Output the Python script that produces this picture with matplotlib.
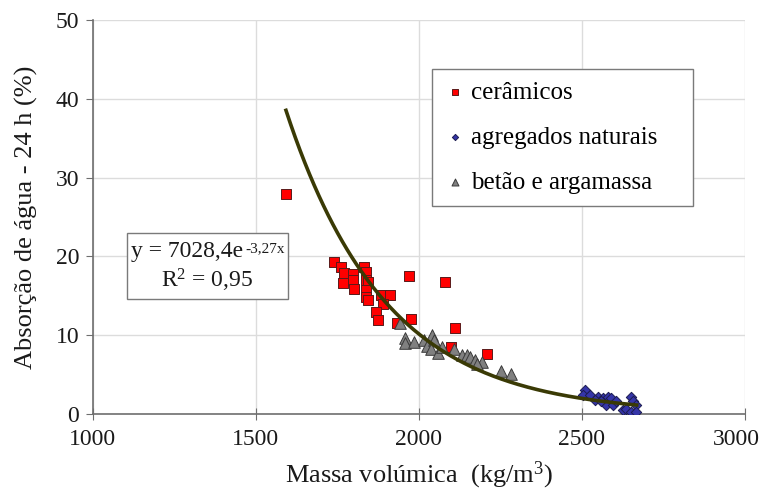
import numpy as np
import matplotlib
matplotlib.use("Agg")
import matplotlib.pyplot as plt
import matplotlib.transforms as mtransforms
from matplotlib.patches import Rectangle

plt.rcParams['font.family'] = ['Liberation Serif', 'DejaVu Serif']
plt.rcParams['mathtext.fontset'] = 'custom'
plt.rcParams['mathtext.rm'] = 'Liberation Serif'
plt.rcParams['mathtext.default'] = 'regular'

# Data
cer_x = [1592, 1740, 1762, 1771, 1798, 1768, 1798, 1801, 1831, 1836, 1838, 1844,
         1838, 1838, 1844, 1885, 1911, 1890, 1869, 1874, 1934, 1969, 2080, 1977,
         2112, 2098, 2208]
cer_y = [27.9, 19.3, 18.7, 17.9, 17.8, 16.6, 17.0, 15.9, 18.7, 18.0, 17.0, 16.8,
         15.7, 14.9, 14.5, 15.1, 15.1, 14.0, 13.0, 11.9, 11.6, 17.5, 16.8, 12.1,
         10.9, 8.5, 7.6]

agr_x = [2508, 2503, 2524, 2549, 2564, 2579, 2590, 2574, 2595, 2605, 2625, 2635,
         2650, 2655, 2666, 2650, 2666, 2539, 2559]
agr_y = [3.1, 2.4, 2.4, 2.2, 2.0, 2.2, 2.0, 1.2, 1.2, 1.6, 0.5, 0.7,
         2.2, 1.6, 1.2, 0.3, 0.3, 1.8, 1.6]

bet_x = [1942, 1958, 1958, 1986, 2014, 2024, 2041, 2047, 2037, 2059, 2070, 2108,
         2131, 2147, 2157, 2172, 2194, 2177, 2251, 2282]
bet_y = [11.6, 9.6, 9.0, 9.1, 9.4, 8.6, 10.0, 9.4, 8.2, 7.7, 8.5, 8.3,
         7.5, 7.5, 7.3, 6.9, 6.6, 6.4, 5.4, 5.1]

fit_a = 7028.4
fit_b = -3.27
fit_range = [1592, 2668]

x_ticks = [1000, 1500, 2000, 2500, 3000]
y_ticks = [0, 10, 20, 30, 40, 50]

fig = plt.figure(figsize=(7.64, 4.93), dpi=100)
ax = fig.add_axes([0.1217, 0.1602, 0.8534, 0.799])

ax.set_xlim(1000, 3000)
ax.set_ylim(0, 50)
ax.set_xticks(x_ticks)
ax.set_yticks(y_ticks)
ax.grid(True, color='#dcdcdc', linewidth=1.0)
ax.set_axisbelow(True)
for s in ['top', 'right']:
    ax.spines[s].set_visible(False)
for s in ['left', 'bottom']:
    ax.spines[s].set_color('#6e6e6e')
    ax.spines[s].set_linewidth(1.2)
ax.tick_params(axis='y', direction='out', length=5, color='#6e6e6e', labelsize=17,
               pad=5, labelcolor='#1a1a1a')
ax.tick_params(axis='x', direction='inout', length=8, color='#6e6e6e', labelsize=17,
               pad=7, labelcolor='#1a1a1a')

# keep the last x tick label inside the figure
last_lbl = ax.get_xticklabels()[-1]
last_lbl.set_transform(last_lbl.get_transform() +
                       mtransforms.ScaledTranslation(-6 / 72, 0, fig.dpi_scale_trans))

ax.scatter(cer_x, cer_y, marker='s', s=55, facecolor='#ff0000', edgecolor='#5a1a1a',
           linewidth=0.7, label='cerâmicos', zorder=3)
ax.scatter(agr_x, agr_y, marker='D', s=28, facecolor='#3535a8', edgecolor='#1c1c50',
           linewidth=0.7, label='agregados naturais', zorder=3)
ax.scatter(bet_x, bet_y, marker='^', s=70, facecolor='#808080', edgecolor='#3a3a3a',
           linewidth=0.7, label='betão e argamassa', zorder=3)

xf = np.linspace(fit_range[0], fit_range[1], 300)
yf = fit_a * np.exp(fit_b * xf / 1000.0)
ax.plot(xf, yf, color='#3a3a05', linewidth=2.6, zorder=4)

leg = ax.legend(loc='upper left', bbox_to_anchor=(0.520, 0.543, 0.400, 0.333),
                mode='expand', fontsize=18,
                frameon=True, fancybox=False, edgecolor='#7a7a7a', framealpha=1,
                markerscale=0.6, handletextpad=0.25, labelspacing=0.9,
                borderpad=0.5, handlelength=0.8, borderaxespad=0)
leg.get_frame().set_linewidth(1.0)

# Equation box
ax.add_patch(Rectangle((1104, 14.6), 494, 8.4, facecolor='white', edgecolor='#7a7a7a',
                       linewidth=1.0, zorder=5))
t1 = ax.text(1117, 20.6, 'y = 7028,4e', fontsize=17, ha='left', va='center',
             color='#1a1a1a', zorder=6)
ax.annotate('-3,27x', xy=(1, 1), xycoords=t1, xytext=(1.5, -1), textcoords='offset points',
            fontsize=11, ha='left', va='top', color='#1a1a1a', zorder=6)
ax.text(1351, 16.9, 'R$^{2}$ = 0,95', fontsize=17, ha='center', va='center',
        color='#1a1a1a', zorder=6)

ax.set_xlabel('Massa volúmica  (kg/m$^{3}$)', fontsize=19, color='#1a1a1a')
ax.set_ylabel('Absorção de água - 24 h (%)', fontsize=19, color='#1a1a1a')
ax.xaxis.set_label_coords(0.5, -0.117)
ax.yaxis.set_label_coords(-0.085, 0.5)

fig.savefig('out.png', dpi=100, facecolor='white')
